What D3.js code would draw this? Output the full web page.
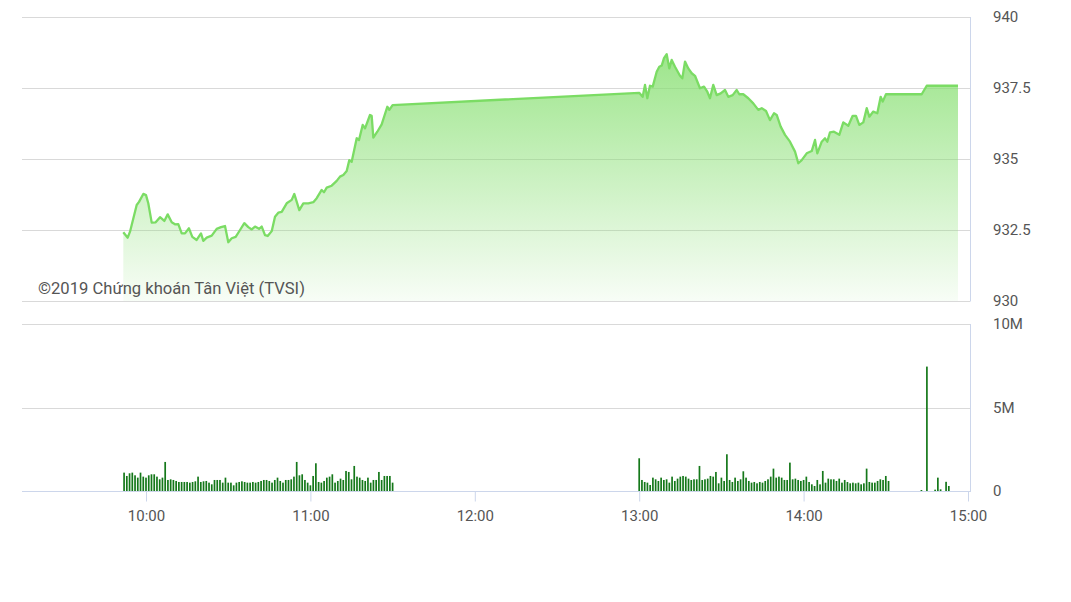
<!DOCTYPE html>
<html>
<head>
<meta charset="utf-8">
<script src="https://cdn.jsdelivr.net/npm/d3@7/dist/d3.min.js"></script>
<style>
  html, body { margin: 0; padding: 0; background: #fff; }
  svg { display: block; font-family: Roboto, "Noto Sans", sans-serif; }
</style>
</head>
<body>
<svg id="chart" width="1071" height="602"></svg>
<script>
// ---------- DATA ----------
const priceTimes = [
  "09:51:43","09:53:19","09:54:10","09:56:36","09:57:27","09:59:01","10:00:00","10:00:50","10:02:05","10:03:32",
  "10:05:07","10:06:41","10:07:55","10:09:23","10:10:35","10:11:47","10:13:02","10:14:14","10:15:41","10:16:54",
  "10:18:30","10:20:04","10:20:55","10:22:09","10:23:59","10:25:48","10:27:22","10:28:50","10:30:02","10:31:17",
  "10:32:44","10:34:19","10:35:53","10:37:20","10:38:35","10:39:47","10:41:15","10:42:14","10:43:26","10:44:25",
  "10:45:53","10:47:05","10:48:17","10:49:32","10:51:21","10:53:11","10:54:07","10:55:57","10:57:25","10:59:14",
  "11:01:04","11:02:18","11:04:07","11:04:58","11:05:57","11:07:46","11:09:36","11:10:48","11:12:01","11:13:15",
  "11:14:12","11:15:04","11:16:54","11:17:44","11:19:05","11:19:56","11:21:45","11:22:22","11:22:58","11:24:25",
  "11:26:01","11:28:04","11:28:48","11:30:00",
  "13:00:00","13:01:16","13:02:07","13:02:58","13:03:56","13:04:56","13:06:23","13:07:20","13:08:13","13:09:03",
  "13:10:02","13:10:59","13:11:52","13:13:04","13:14:53","13:15:44","13:16:43","13:17:55","13:19:10","13:20:22",
  "13:22:11","13:23:39","13:24:51","13:25:50","13:27:02","13:28:17","13:29:45","13:31:19","13:32:31","13:34:07",
  "13:35:35","13:36:32","13:37:59","13:39:49","13:41:38","13:43:28","13:44:43","13:46:17","13:47:44","13:49:12",
  "13:50:11","13:51:38","13:53:13","13:55:02","13:56:52","13:58:04","13:59:19","14:01:08","14:02:58","14:04:10",
  "14:05:00","14:06:37","14:07:49","14:08:39","14:09:38","14:11:05","14:13:02","14:14:29","14:16:19","14:17:55",
  "14:19:07","14:20:20","14:21:47","14:23:02","14:23:59","14:25:26","14:26:54","14:28:08","14:28:52","14:30:04",
  "14:43:06","14:44:56","14:56:21"
];
const priceValues = [
  932.42,932.23,932.44,933.38,933.49,933.77,933.73,933.44,932.76,932.77,
  932.95,932.82,933.05,932.77,932.70,932.71,932.38,932.38,932.56,932.26,
  932.15,932.38,932.12,932.23,932.30,932.54,932.60,932.64,932.07,932.21,
  932.26,932.50,932.74,932.60,932.52,932.62,932.54,932.62,932.32,932.29,
  932.46,932.97,933.11,933.14,933.44,933.56,933.77,933.20,933.44,933.44,
  933.48,933.62,933.91,933.83,933.99,934.06,934.23,934.38,934.44,934.58,
  934.96,934.90,935.73,935.67,936.20,936.08,936.55,936.52,935.75,935.96,
  936.22,936.84,936.73,936.90,
  937.33,937.19,937.61,937.14,937.58,937.55,938.07,938.25,938.29,938.55,
  938.69,938.19,938.49,938.25,937.93,937.84,938.43,938.19,938.02,937.93,
  937.49,937.55,937.37,937.14,937.61,937.25,937.31,937.43,937.19,937.25,
  937.43,937.28,937.28,937.14,936.96,936.73,936.79,936.69,936.37,936.61,
  936.55,936.14,935.85,935.61,935.26,934.85,934.96,935.20,935.28,935.67,
  935.20,935.61,935.73,935.61,935.94,935.96,935.85,936.29,936.17,936.52,
  936.52,936.20,936.29,936.79,936.49,936.67,936.61,937.19,937.02,937.28,
  937.28,937.58,937.58
];

// volume (millions), one bar per minute
const volMorningStart = "09:52:00";
const volMorning = [
  1.10,0.90,1.06,1.10,0.94,0.80,1.10,0.86,0.80,0.94,
  1.00,1.00,0.86,0.70,0.80,1.74,0.66,0.70,0.66,0.60,
  0.54,0.54,0.54,0.54,0.50,0.54,0.58,0.86,0.54,0.58,
  0.60,0.50,0.40,0.66,0.66,0.66,0.50,0.80,0.50,0.50,
  0.34,0.50,0.54,0.58,0.54,0.50,0.50,0.54,0.50,0.54,
  0.60,0.66,0.66,0.60,0.50,0.66,0.80,0.60,0.50,0.66,
  0.66,0.70,0.86,1.74,0.94,1.00,0.66,0.50,0.34,0.90,
  1.66,0.54,0.50,0.60,0.80,0.86,1.00,0.50,0.60,0.74,
  0.66,1.20,1.14,0.70,1.50,0.86,0.80,0.66,0.60,0.80,
  0.50,0.66,0.66,1.14,0.66,0.90,0.90,0.90,0.50
];
const volAfternoonStart = "13:00:00";
const volAfternoon = [
  1.96,0.66,0.54,0.50,0.36,0.80,0.70,0.60,0.80,0.66,
  0.70,0.50,0.86,0.60,0.74,0.86,0.90,0.86,0.74,0.66,
  0.70,0.70,1.50,0.66,0.70,0.74,0.90,0.86,1.14,0.46,
  0.80,0.60,2.20,0.66,0.54,0.80,0.60,0.70,1.18,0.80,
  0.60,0.50,0.54,0.46,0.54,0.50,0.60,0.70,0.86,1.34,
  0.80,0.86,0.80,0.66,0.66,1.70,0.70,0.74,0.66,0.60,
  0.66,0.86,0.54,0.40,0.30,0.66,0.40,1.20,0.50,0.74,
  0.70,0.70,0.60,0.74,0.50,0.66,0.54,0.46,0.50,0.46,
  0.50,0.40,0.46,1.34,0.54,0.50,0.50,0.60,0.70,0.66,
  0.90,0.60
];
const volCloseTimes = ["14:43:00","14:45:00","14:48:00","14:49:00","14:50:00","14:52:00","14:53:00"];
const volClose = [0.06,7.45,0.08,0.80,0.10,0.55,0.30];

const priceTicks = [930, 932.5, 935, 937.5, 940];
const priceTickLabels = ["930", "932.5", "935", "937.5", "940"];
const volTicks = [0, 5, 10];
const volTickLabels = ["0", "5M", "10M"];
const timeTicks = ["10:00:00","11:00:00","12:00:00","13:00:00","14:00:00","15:00:00"];
const timeDomain = ["09:15:00", "15:00:00"];
const copyrightText = "©2019 Chứng khoán Tân Việt (TVSI)";

// ---------- CHART ----------
const parseT = d3.timeParse("%H:%M:%S");
const svg = d3.select("#chart");

const left = 22, right = 970;
const x = d3.scaleTime().domain(timeDomain.map(parseT)).range([22.7, 968]);
const yP = d3.scaleLinear().domain([930, 940]).range([301, 17]);
const yV = d3.scaleLinear().domain([0, 10]).range([491, 324]);

const gridColor = "#d9d9d9";
const axisColor = "#ccd6eb";
const labelColor = "#555";

// price gridlines
svg.append("g").selectAll("line").data(priceTicks).join("line")
  .attr("x1", left).attr("x2", right)
  .attr("y1", d => Math.round(yP(d)) + 0.5).attr("y2", d => Math.round(yP(d)) + 0.5)
  .attr("stroke", gridColor).attr("stroke-width", 1);

// volume gridlines (not the zero line)
svg.append("g").selectAll("line").data(volTicks.filter(d => d > 0)).join("line")
  .attr("x1", left).attr("x2", right)
  .attr("y1", d => Math.round(yV(d)) + 0.5).attr("y2", d => Math.round(yV(d)) + 0.5)
  .attr("stroke", gridColor).attr("stroke-width", 1);

// right axis lines
svg.append("line").attr("x1", right + 0.5).attr("x2", right + 0.5)
  .attr("y1", yP(940)).attr("y2", yP(930) + 0.5).attr("stroke", axisColor);
svg.append("line").attr("x1", right + 0.5).attr("x2", right + 0.5)
  .attr("y1", yV(10)).attr("y2", yV(0)).attr("stroke", axisColor);

// gradient
const defs = svg.append("defs");
const grad = defs.append("linearGradient").attr("id", "areaGrad")
  .attr("gradientUnits", "userSpaceOnUse")
  .attr("x1", 0).attr("x2", 0).attr("y1", yP(940)).attr("y2", yP(930));
grad.append("stop").attr("offset", "0%").attr("stop-color", "#86df70").attr("stop-opacity", 0.92);
grad.append("stop").attr("offset", "100%").attr("stop-color", "#86df70").attr("stop-opacity", 0.06);

const priceData = priceTimes.map((t, i) => ({ t: parseT(t), v: priceValues[i] }));

svg.append("path").datum(priceData)
  .attr("fill", "url(#areaGrad)")
  .attr("d", d3.area().x(d => x(d.t)).y0(yP(930)).y1(d => yP(d.v)));

svg.append("path").datum(priceData)
  .attr("fill", "none")
  .attr("stroke", "#7bdc64")
  .attr("stroke-width", 2.3)
  .attr("stroke-linejoin", "round")
  .attr("d", d3.line().x(d => x(d.t)).y(d => yP(d.v)));

// copyright
svg.append("text")
  .attr("x", 38).attr("y", 294)
  .attr("font-size", 16.6).attr("fill", labelColor)
  .text(copyrightText);

// volume bars
const volData = [];
volMorning.forEach((v, i) => volData.push({ t: d3.timeMinute.offset(parseT(volMorningStart), i), v }));
volAfternoon.forEach((v, i) => volData.push({ t: d3.timeMinute.offset(parseT(volAfternoonStart), i), v }));
volCloseTimes.forEach((t, i) => volData.push({ t: parseT(t), v: volClose[i] }));

const barW = 1.7;
svg.append("g").selectAll("rect").data(volData).join("rect")
  .attr("x", d => x(d.t) - barW / 2)
  .attr("width", barW)
  .attr("y", d => yV(d.v))
  .attr("height", d => yV(0) - yV(d.v))
  .attr("fill", "#15781a");

// x axis line
svg.append("line").attr("x1", left).attr("x2", right + 1)
  .attr("y1", yV(0) + 0.5).attr("y2", yV(0) + 0.5)
  .attr("stroke", axisColor);

// x axis
const xAxis = d3.axisBottom(x)
  .tickValues(timeTicks.map(parseT))
  .tickFormat(d3.timeFormat("%H:%M"))
  .tickSize(10).tickPadding(9);
const gx = svg.append("g").attr("transform", `translate(0,${yV(0) + 0.5})`).call(xAxis);
gx.select(".domain").remove();
gx.selectAll(".tick line").attr("stroke", axisColor);
gx.selectAll(".tick text").attr("fill", labelColor).attr("font-size", 15).attr("font-family", "Roboto, sans-serif");

// right axes (labels)
const pAxis = d3.axisRight(yP).tickValues(priceTicks)
  .tickFormat((d, i) => priceTickLabels[i]).tickSize(0).tickPadding(23);
const gp = svg.append("g").attr("transform", `translate(${right},0)`).call(pAxis);
gp.select(".domain").remove();
gp.selectAll(".tick text").attr("fill", labelColor).attr("font-size", 15).attr("font-family", "Roboto, sans-serif");

const vAxis = d3.axisRight(yV).tickValues(volTicks)
  .tickFormat((d, i) => volTickLabels[i]).tickSize(0).tickPadding(23);
const gv = svg.append("g").attr("transform", `translate(${right},0)`).call(vAxis);
gv.select(".domain").remove();
gv.selectAll(".tick text").attr("fill", labelColor).attr("font-size", 15).attr("font-family", "Roboto, sans-serif");
</script>
</body>
</html>
